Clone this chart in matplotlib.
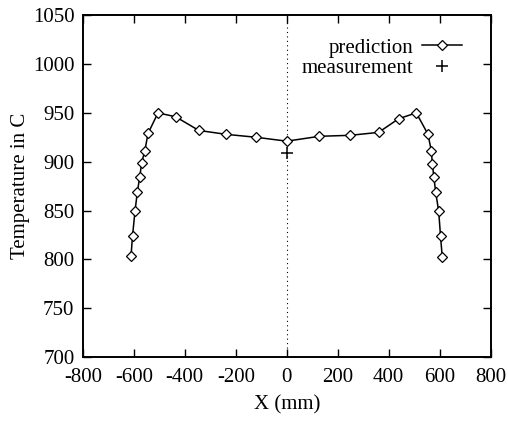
import matplotlib
matplotlib.use("Agg")
import matplotlib.pyplot as plt

plt.rcParams["font.family"] = ["Liberation Serif", "DejaVu Serif"]
plt.rcParams["axes.unicode_minus"] = False

# prediction profile across the width (mm, deg C)
x_pred = [-611, -605, -595, -586, -577, -569, -557, -544, -505, -436, -345,
          -238, -120, 0, 128, 249, 360, 439, 508, 554, 567, 571, 577, 584,
          596, 603, 610]
t_pred = [803, 824, 850, 869, 884, 899, 911, 929, 950, 946, 932,
          928, 925, 921, 926, 927, 930, 944, 950, 928, 911, 898, 884, 869,
          849, 824, 802]

x_meas = [0]
t_meas = [909]

xticks = [-800, -600, -400, -200, 0, 200, 400, 600, 800]
yticks = [700, 750, 800, 850, 900, 950, 1000, 1050]

fig = plt.figure(figsize=(5.08, 4.22), dpi=100)
ax = fig.add_axes([0.163, 0.154, 0.803, 0.81])

ax.axvline(0, color="black", linestyle=(0, (1, 3)), linewidth=0.8)
ax.plot(x_pred, t_pred, color="black", linewidth=1.1, marker="D",
        markersize=5.5, markerfacecolor="white", markeredgecolor="black",
        markeredgewidth=0.9, label="prediction")
ax.plot(x_meas, t_meas, linestyle="none", marker="+", markersize=9,
        color="black", markeredgewidth=1.1, label="measurement")

ax.set_xlim(-800, 800)
ax.set_ylim(700, 1050)
ax.set_xticks(xticks)
ax.set_yticks(yticks)
ax.tick_params(direction="in", length=6, width=1, top=True, right=True,
               labelsize=15)
ax.tick_params(axis="x", pad=8)
ax.tick_params(axis="y", pad=6)
for s in ax.spines.values():
    s.set_linewidth(1.4)

ax.set_xlabel("X (mm)", fontsize=15, labelpad=6)
ax.set_ylabel("Temperature in C", fontsize=15, labelpad=2)

ax.legend(loc="upper right", bbox_to_anchor=(0.985, 1.0), frameon=False,
          markerfirst=False, fontsize=15, handlelength=1.9,
          handletextpad=0.4, labelspacing=0.05, borderaxespad=0.7)

fig.savefig("out.png", dpi=100)
